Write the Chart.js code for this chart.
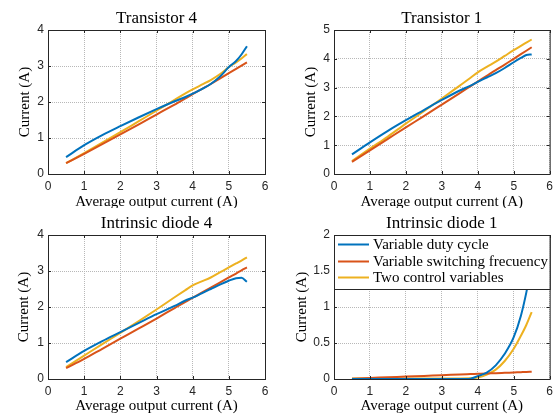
<!DOCTYPE html>
<html lang="en">
<head>
    <meta charset="UTF-8">
    <title>Transistor and diode currents</title>
    <script src="https://cdn.jsdelivr.net/npm/chart.js"></script>
    <style>
        html, body {
            margin: 0;
            padding: 0;
            background: #ffffff;
        }
        .page {
            position: relative;
            width: 558px;
            height: 414px;
            overflow: hidden;
        }
        .panel {
            position: absolute;
        }
    </style>
</head>
<body>
    <div class="page">
        <div class="panel" style="left:0;top:0;"><canvas id="t4Chart" width="279" height="208"></canvas></div>
        <div class="panel" style="left:279px;top:0;"><canvas id="t1Chart" width="279" height="208"></canvas></div>
        <div class="panel" style="left:0;top:208px;"><canvas id="d4Chart" width="279" height="206"></canvas></div>
        <div class="panel" style="left:279px;top:208px;"><canvas id="d1Chart" width="279" height="206"></canvas></div>
    </div>

    <script>
        // x values shared by every curve (average output current, A)
        const xValues = [0.5, 1, 1.5, 2, 2.5, 3, 3.5, 3.8, 4, 4.25, 4.5, 4.75, 5, 5.2, 5.35, 5.5];
        const xTicks = [0, 1, 2, 3, 4, 5, 6];

        const seriesNames = ['Variable duty cycle', 'Variable switching frecuency', 'Two control variables'];
        const panelTitles = ['Transistor 4', 'Transistor 1', 'Intrinsic diode 4', 'Intrinsic diode 1'];

        // Transistor 4
        const t4Duty = [0.47, 0.8, 1.08, 1.33, 1.57, 1.8, 2.02, 2.14, 2.23, 2.36, 2.5, 2.7, 2.97, 3.14, 3.32, 3.55];
        const t4Freq = [0.3, 0.56, 0.83, 1.1, 1.37, 1.65, 1.93, 2.1, 2.22, 2.36, 2.5, 2.65, 2.8, 2.92, 3.01, 3.1];
        const t4Two = [0.3, 0.58, 0.87, 1.16, 1.46, 1.76, 2.06, 2.24, 2.35, 2.48, 2.61, 2.77, 2.97, 3.1, 3.21, 3.33];
        const t4Ticks = [0, 1, 2, 3, 4];

        // Transistor 1
        const t1Duty = [0.68, 1.1, 1.5, 1.87, 2.22, 2.57, 2.9, 3.07, 3.2, 3.35, 3.5, 3.68, 3.88, 4.03, 4.13, 4.15];
        const t1Freq = [0.42, 0.82, 1.22, 1.62, 2.01, 2.41, 2.81, 3.05, 3.21, 3.41, 3.61, 3.8, 4.0, 4.16, 4.28, 4.4];
        const t1Two = [0.45, 0.88, 1.3, 1.75, 2.18, 2.62, 3.07, 3.34, 3.53, 3.72, 3.9, 4.1, 4.3, 4.45, 4.56, 4.67];
        const t1Ticks = [0, 1, 2, 3, 4, 5];

        // Intrinsic diode 4
        const d4Duty = [0.47, 0.78, 1.05, 1.3, 1.55, 1.8, 2.03, 2.18, 2.26, 2.38, 2.5, 2.62, 2.73, 2.8, 2.81, 2.7];
        const d4Freq = [0.3, 0.56, 0.84, 1.12, 1.4, 1.68, 1.97, 2.14, 2.26, 2.4, 2.54, 2.68, 2.82, 2.93, 3.02, 3.1];
        const d4Two = [0.33, 0.65, 0.97, 1.28, 1.6, 1.93, 2.27, 2.47, 2.6, 2.71, 2.82, 2.96, 3.1, 3.21, 3.29, 3.38];
        const d4Ticks = [0, 1, 2, 3, 4];

        // Intrinsic diode 1
        const d1Duty = [0, 0, 0, 0, 0, 0, 0, 0.005, 0.04, 0.09, 0.19, 0.35, 0.58, 0.88, 1.2, 1.6];
        const d1Freq = [0.005, 0.015, 0.024, 0.034, 0.043, 0.053, 0.062, 0.068, 0.072, 0.077, 0.081, 0.086, 0.091, 0.095, 0.098, 0.1];
        const d1Two = [0.008, 0.008, 0.008, 0.008, 0.008, 0.008, 0.008, 0.01, 0.02, 0.06, 0.13, 0.25, 0.42, 0.6, 0.75, 0.93];
        const d1Ticks = [0, 0.5, 1, 1.5, 2];

        const lineColors = ['#0072BD', '#D95319', '#EDB120'];
        const serif = "'Liberation Serif', 'Times New Roman', serif";
        const sans = "'Liberation Sans', Arial, sans-serif";
        const axisColor = '#262626';

        // frame, inward tick marks, panel title and (optionally) the legend box
        const framePlugin = {
            id: 'frame',
            afterDatasetsDraw(chart, args, opts) {
                const { ctx, chartArea: a, scales } = chart;
                ctx.save();
                ctx.strokeStyle = axisColor;
                ctx.lineWidth = 1;
                ctx.beginPath();
                scales.x.ticks.forEach(t => {
                    const px = Math.round(scales.x.getPixelForValue(t.value)) + 0.5;
                    ctx.moveTo(px, a.bottom); ctx.lineTo(px, a.bottom - 3);
                    ctx.moveTo(px, a.top); ctx.lineTo(px, a.top + 3);
                });
                scales.y.ticks.forEach(t => {
                    const py = Math.round(scales.y.getPixelForValue(t.value)) + 0.5;
                    ctx.moveTo(a.left, py); ctx.lineTo(a.left + 3, py);
                    ctx.moveTo(a.right, py); ctx.lineTo(a.right - 3, py);
                });
                ctx.stroke();
                ctx.strokeRect(a.left + 0.5, a.top + 0.5, a.right - a.left, a.bottom - a.top);

                if (opts.legend) {
                    const h = 54;
                    ctx.fillStyle = '#ffffff';
                    ctx.fillRect(a.left, a.top, a.right - a.left, h);
                    ctx.strokeStyle = axisColor;
                    ctx.strokeRect(a.left + 0.5, a.top + 0.5, a.right - a.left, h);
                    ctx.font = '15px ' + serif;
                    ctx.textBaseline = 'middle';
                    ctx.textAlign = 'left';
                    const rows = [9.5, 26.5, 42.5];
                    chart.data.datasets.forEach((ds, i) => {
                        const y = a.top + rows[i];
                        ctx.strokeStyle = ds.borderColor;
                        ctx.lineWidth = 2;
                        ctx.beginPath();
                        ctx.moveTo(a.left + 4, y);
                        ctx.lineTo(a.left + 35, y);
                        ctx.stroke();
                        ctx.fillStyle = '#000000';
                        ctx.fillText(ds.label, a.left + 39, y + 1);
                    });
                }

                ctx.fillStyle = '#000000';
                ctx.font = '17px ' + serif;
                ctx.textAlign = 'center';
                ctx.textBaseline = 'middle';
                ctx.fillText(opts.title, (a.left + a.right) / 2, a.top - 11.5);
                ctx.restore();
            }
        };

        function makePanel(canvasId, title, series, yTicks, padding, yTitlePad, xAxisHeight, xTitlePad, showLegend) {
            const ctx = document.getElementById(canvasId).getContext('2d');
            return new Chart(ctx, {
                type: 'line',
                data: {
                    datasets: series.map((vals, i) => ({
                        label: seriesNames[i],
                        data: xValues.map((x, k) => ({ x: x, y: vals[k] })),
                        borderColor: lineColors[i],
                        backgroundColor: lineColors[i],
                        borderWidth: 2,
                        pointRadius: 0,
                        fill: false,
                        cubicInterpolationMode: 'monotone'
                    }))
                },
                options: {
                    responsive: false,
                    animation: false,
                    layout: { padding: padding },
                    plugins: {
                        legend: { display: false },
                        tooltip: { enabled: false },
                        frame: { title: title, legend: showLegend }
                    },
                    scales: {
                        x: {
                            type: 'linear',
                            min: xTicks[0],
                            max: xTicks[xTicks.length - 1],
                            afterBuildTicks: axis => { axis.ticks = xTicks.map(v => ({ value: v })); },
                            afterFit: axis => { axis.height = xAxisHeight; },
                            grid: { color: '#b8b8b8', drawTicks: false },
                            border: { display: false, dash: [1, 1] },
                            ticks: {
                                color: axisColor,
                                padding: 5,
                                maxRotation: 0,
                                font: { family: sans, size: 12 },
                                callback: v => String(v)
                            },
                            title: {
                                display: true,
                                text: 'Average output current (A)',
                                color: '#000000',
                                font: { family: serif, size: 15, lineHeight: 1 },
                                padding: { top: 0, bottom: xTitlePad }
                            }
                        },
                        y: {
                            type: 'linear',
                            min: yTicks[0],
                            max: yTicks[yTicks.length - 1],
                            afterBuildTicks: axis => { axis.ticks = yTicks.map(v => ({ value: v })); },
                            afterFit: axis => { axis.width = 48; },
                            grid: { color: '#b8b8b8', drawTicks: false },
                            border: { display: false, dash: [1, 1] },
                            ticks: {
                                color: axisColor,
                                padding: 4,
                                font: { family: sans, size: 12 },
                                callback: v => String(v)
                            },
                            title: {
                                display: true,
                                text: 'Current (A)',
                                color: '#000000',
                                font: { family: serif, size: 15, lineHeight: 1 },
                                padding: { top: yTitlePad, bottom: 0 }
                            }
                        }
                    }
                },
                plugins: [framePlugin]
            });
        }

        makePanel('t4Chart', panelTitles[0], [t4Duty, t4Freq, t4Two], t4Ticks,
            { left: 0, right: 14, top: 30, bottom: 0 }, 17.5, 34, -2, false);
        makePanel('t1Chart', panelTitles[1], [t1Duty, t1Freq, t1Two], t1Ticks,
            { left: 7, right: 6, top: 30, bottom: 0 }, 17.5, 34, -2, false);
        makePanel('d4Chart', panelTitles[2], [d4Duty, d4Freq, d4Two], d4Ticks,
            { left: 0, right: 14, top: 27, bottom: 0 }, 17, 35, 0, false);
        makePanel('d1Chart', panelTitles[3], [d1Duty, d1Freq, d1Two], d1Ticks,
            { left: 7, right: 6, top: 27, bottom: 0 }, 8.5, 35, 0, true);
    </script>
</body>
</html>
